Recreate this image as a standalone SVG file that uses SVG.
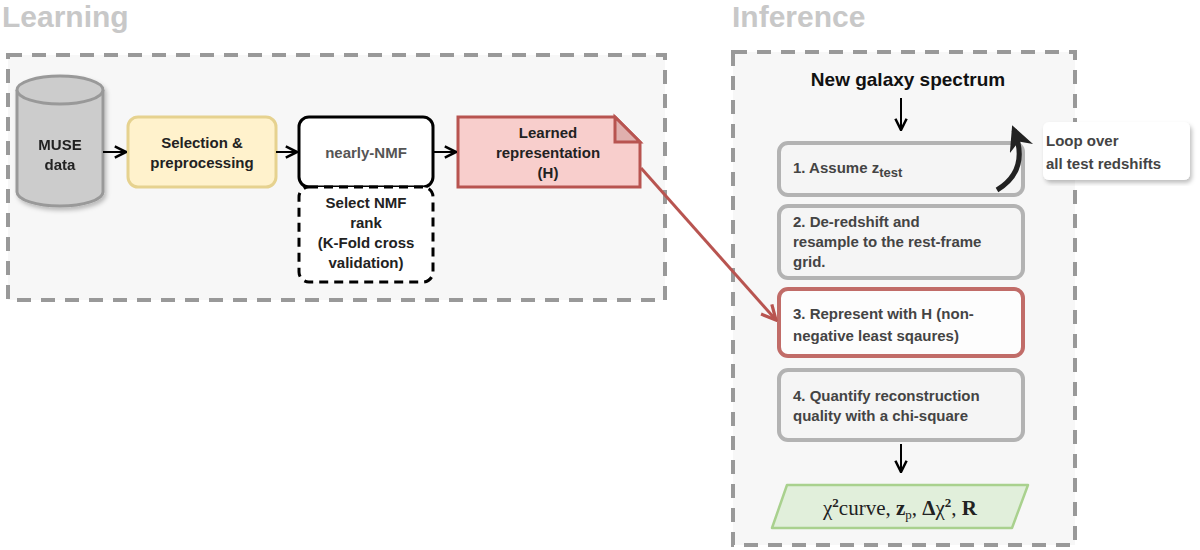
<svg xmlns="http://www.w3.org/2000/svg" width="1200" height="550" viewBox="0 0 1200 550">
<defs>
<marker id="ah" viewBox="0 0 10 10" refX="9" refY="5" markerWidth="7" markerHeight="7" orient="auto"><path d="M1,1 L9,5 L1,9" fill="none" stroke="#000" stroke-width="1.8"/></marker>
<marker id="ahr" viewBox="0 0 10 10" refX="9" refY="5" markerWidth="6" markerHeight="6" orient="auto"><path d="M1,1 L9,5 L1,9" fill="none" stroke="#b85450" stroke-width="1.8"/></marker>
<marker id="ahb" viewBox="0 0 10 10" refX="8" refY="5" markerWidth="5" markerHeight="5" orient="auto"><path d="M0,0 L10,5 L0,10 L3,5Z" fill="#222"/></marker>
<filter id="sh"><feDropShadow dx="2" dy="3" stdDeviation="2" flood-opacity="0.25"/></filter>
</defs>
<style>
text{font-family:"Liberation Sans",Arial,sans-serif;font-weight:bold}
.title{font-size:30px;fill:#c8c8c8}
.grp{fill:#f7f7f7;stroke:#999;stroke-width:4;stroke-dasharray:14,10}
.t{font-size:15px;fill:#222;text-anchor:middle}
.s{fill:#f5f5f5;stroke:#b3b3b3;stroke-width:4}
.st{font-size:15px;fill:#444}
.c{fill:none;stroke:#000;stroke-width:2}
</style>
<text class="title" x="2" y="27">Learning</text>
<text class="title" x="732" y="27">Inference</text>
<rect class="grp" x="8" y="55" width="657" height="245"/>
<rect class="grp" x="733" y="52" width="342" height="493"/>
<g id="muse" filter="url(#sh)">
<path d="M17,90 L17,192 A43,14 0 0 0 103,192 L103,90" fill="#ccc" stroke="#999" stroke-width="3"/>
<ellipse cx="60" cy="90" rx="43" ry="14" fill="#ccc" stroke="#999" stroke-width="3"/>
<text class="t" x="60" y="150" fill="#333">MUSE</text><text class="t" x="60" y="170">data</text>
</g>
<g id="sel"><rect x="128" y="117" width="148" height="70" rx="10" fill="#fff2cc" stroke="#e6d28f" stroke-width="3"/>
<text class="t" x="202" y="148">Selection &amp;</text><text class="t" x="202" y="168">preprocessing</text></g>
<g id="nmf"><rect x="299" y="117" width="134" height="70" rx="10" fill="#fff" stroke="#000" stroke-width="3"/>
<text class="t" x="366" y="158" style="fill:#555">nearly-NMF</text></g>
<g id="rank"><rect x="299" y="187" width="134" height="95" rx="10" fill="#fff" stroke="#000" stroke-width="3" stroke-dasharray="9,6"/>
<text class="t" x="366" y="208">Select NMF</text><text class="t" x="366" y="228">rank</text><text class="t" x="366" y="248">(K-Fold cross</text><text class="t" x="366" y="268">validation)</text></g>
<g id="learned"><path d="M458,117 L615,117 L640,142 L640,187 L458,187Z" fill="#f8cecc" stroke="#b85450" stroke-width="3"/>
<path d="M615,117 L615,142 L640,142Z" fill="#e0b0ae" stroke="#b85450" stroke-width="3"/>
<text class="t" x="548" y="138">Learned</text><text class="t" x="548" y="158">representation</text><text class="t" x="548" y="178">(H)</text></g>
<g id="inf">
<text x="908" y="86" style="font-size:19px;fill:#111;text-anchor:middle">New galaxy spectrum</text>
<g id="s1"><rect class="s" x="779" y="143" width="244" height="52" rx="9"/><text class="st" x="793" y="173">1. Assume z<tspan dy="4" font-size="13">test</tspan></text></g>
<g id="s2"><rect class="s" x="779" y="206" width="244" height="72" rx="9"/><text class="st" x="793" y="227">2. De-redshift and</text><text class="st" x="793" y="247">resample to the rest-frame</text><text class="st" x="793" y="267">grid.</text></g>
<g id="s3"><rect x="779" y="289" width="244" height="67" rx="9" fill="#fff" stroke="#b85450" stroke-width="4" opacity="0.85"/><text class="st" x="793" y="319">3. Represent with H (non-</text><text class="st" x="793" y="341">negative least sqaures)</text></g>
<g id="s4"><rect class="s" x="779" y="370" width="244" height="70" rx="9"/><text class="st" x="793" y="401">4. Quantify reconstruction</text><text class="st" x="793" y="421">quality with a chi-square</text></g>
<g id="out"><path d="M787,485 L1028,485 L1012,528 L772,528Z" fill="#e1efdb" stroke="#a9d18e" stroke-width="2.5" stroke-linejoin="round"/>
<text x="900" y="515" style="font-family:'Liberation Serif',serif;font-size:21px;font-weight:normal;fill:#222;text-anchor:middle">χ<tspan dy="-8" font-size="13" font-weight="bold">2</tspan><tspan dy="8">curve, </tspan><tspan font-weight="bold">z</tspan><tspan dy="4" font-size="13">p</tspan><tspan dy="-4">, </tspan><tspan font-weight="bold">Δ</tspan>χ<tspan dy="-8" font-size="13" font-weight="bold">2</tspan><tspan dy="8">, </tspan><tspan font-weight="bold">R</tspan></text></g>
<g id="loop"><rect x="1043" y="122" width="147" height="58" rx="6" fill="#fff" filter="url(#sh)"/>
<text x="1046" y="146" style="font-size:15px;fill:#444">Loop over</text><text x="1046" y="169" style="font-size:15px;fill:#444">all test redshifts</text></g>
</g>
<g id="connectors">
<line class="c" x1="103" y1="152" x2="126" y2="152" marker-end="url(#ah)"/>
<line class="c" x1="276" y1="152" x2="297" y2="152" marker-end="url(#ah)"/>
<line class="c" x1="433" y1="152" x2="456" y2="152" marker-end="url(#ah)"/>
<line x1="641" y1="168" x2="776" y2="320" stroke="#b85450" stroke-width="3" marker-end="url(#ahr)"/>
<line class="c" x1="901" y1="98" x2="901" y2="130" marker-end="url(#ah)"/>
<line class="c" x1="901" y1="444" x2="901" y2="472" marker-end="url(#ah)"/>
<path d="M997,190 Q1030,170 1014,130" fill="none" stroke="#222" stroke-width="5" marker-end="url(#ahb)"/>
</g>
</svg>
